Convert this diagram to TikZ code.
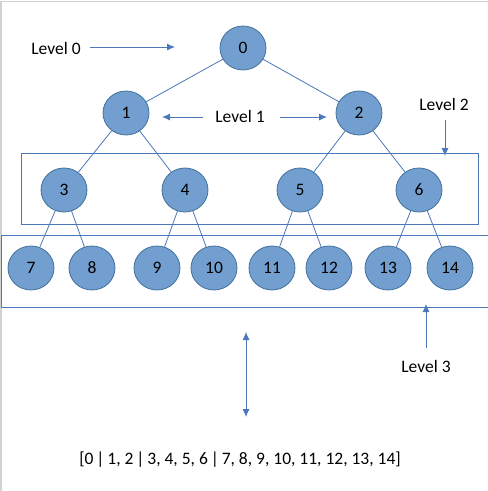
\documentclass[tikz,border=0pt]{standalone}
\usepackage{fontspec}
\setmainfont{Carlito}
\usetikzlibrary{arrows.meta,shapes.geometric}

\definecolor{nodefill}{RGB}{114,159,207}
\definecolor{nodeedge}{RGB}{65,113,156}
\definecolor{linkblue}{RGB}{74,120,184}

\begin{document}
\begin{tikzpicture}[x=1pt, y=-1pt,
    every node/.style={font=\fontsize{17.5}{20}\selectfont},
    heapnode/.style={ellipse, draw=nodeedge, fill=nodefill, line width=0.8pt,
        minimum width=46pt, minimum height=44pt, inner sep=0pt},
    link/.style={draw=linkblue, line width=0.8pt},
    pointer/.style={draw=linkblue, line width=0.9pt, -{Latex[length=8pt,width=7pt]}},
    levelbox/.style={draw=linkblue, line width=0.9pt}]
    \clip (0,0) rectangle (488,491);
    \draw[gray!35, line width=1.2pt] (1,491) -- (1,1.5) -- (488,1.5);

    % tree
    \node[heapnode] (n0) at (243, 48) {0};
    \node[heapnode] (n1) at (126, 113) {1};
    \node[heapnode] (n2) at (359, 113) {2};
    \node[heapnode] (n3) at (64, 190) {3};
    \node[heapnode] (n4) at (185, 190) {4};
    \node[heapnode] (n5) at (300, 190) {5};
    \node[heapnode] (n6) at (419, 190) {6};
    \node[heapnode] (n7) at (31, 268) {7};
    \node[heapnode] (n8) at (92, 268) {8};
    \node[heapnode] (n9) at (157, 268) {9};
    \node[heapnode] (n10) at (214, 268) {10};
    \node[heapnode] (n11) at (272, 268) {11};
    \node[heapnode] (n12) at (329, 268) {12};
    \node[heapnode] (n13) at (388, 268) {13};
    \node[heapnode] (n14) at (450, 268) {14};

    \draw[link] (n0) -- (n1);
    \draw[link] (n0) -- (n2);
    \draw[link] (n1) -- (n3);
    \draw[link] (n1) -- (n4);
    \draw[link] (n2) -- (n5);
    \draw[link] (n2) -- (n6);
    \draw[link] (n3) -- (n7);
    \draw[link] (n3) -- (n8);
    \draw[link] (n4) -- (n9);
    \draw[link] (n4) -- (n10);
    \draw[link] (n5) -- (n11);
    \draw[link] (n5) -- (n12);
    \draw[link] (n6) -- (n13);
    \draw[link] (n6) -- (n14);

    % level boxes
    \draw[levelbox] (21, 153) rectangle (478, 224);
    \draw[levelbox] (1, 235) rectangle (495, 307);

    % labels
    \node (L0) at (56, 48) {Level 0};
    \coordinate (L0a) at (90, 47);
    \coordinate (L0b) at (175, 47);
    \draw[pointer] (L0a) -- (L0b);

    \node (L1) at (240, 116) {Level 1};
    \coordinate (L1la) at (203, 117);
    \coordinate (L1lb) at (162, 117);
    \coordinate (L1ra) at (280, 117);
    \coordinate (L1rb) at (327, 117);
    \draw[pointer] (L1la) -- (L1lb);
    \draw[pointer] (L1ra) -- (L1rb);

    \node (L2) at (444, 104) {Level 2};
    \coordinate (L2a) at (445, 120);
    \coordinate (L2b) at (445, 156);
    \draw[pointer] (L2a) -- (L2b);

    \node (L3) at (426, 366) {Level 3};
    \coordinate (L3a) at (426, 348);
    \coordinate (L3b) at (426, 304);
    \draw[pointer] (L3a) -- (L3b);

    \coordinate (upper) at (246, 332);
    \coordinate (lower) at (246, 417);
    \draw[pointer, {Latex[length=8pt,width=7pt]}-{Latex[length=8pt,width=7pt]}] (upper) -- (lower);

    \node (array) at (240, 460) {[0\,|\,1, 2\,|\,3, 4, 5, 6\,|\,7, 8, 9, 10, 11, 12, 13, 14]};
\end{tikzpicture}
\end{document}
